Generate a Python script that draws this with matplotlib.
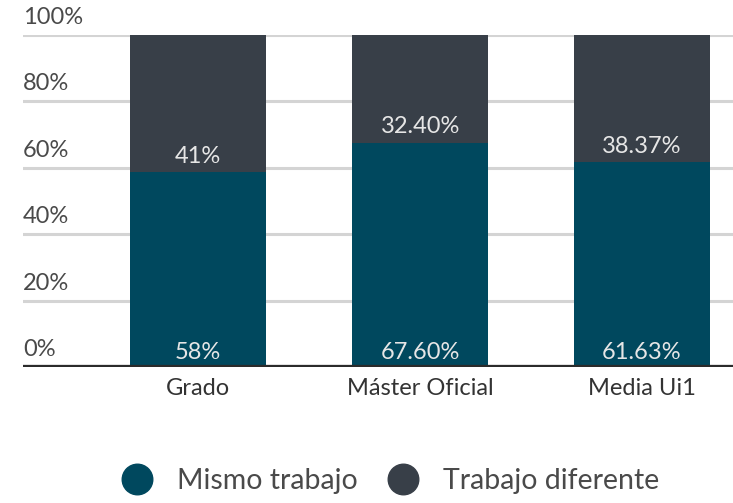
import matplotlib.pyplot as plt
from matplotlib.lines import Line2D
from matplotlib import transforms

plt.rcParams['font.family'] = ['Lato', 'DejaVu Sans']

categories = ['Grado', 'Máster Oficial', 'Media Ui1']
mismo = [58, 67.60, 61.63]
diferente = [41, 32.40, 38.37]
mismo_labels = ['58%', '67.60%', '61.63%']
diferente_labels = ['41%', '32.40%', '38.37%']
yticks = [0, 20, 40, 60, 80, 100]

c_mismo = '#00485e'
c_dif = '#383f48'

# normalise each bar to 100%
tot = [a + b for a, b in zip(mismo, diferente)]
mismo_n = [a / t * 100 for a, t in zip(mismo, tot)]
dif_n = [b / t * 100 for b, t in zip(diferente, tot)]

fig = plt.figure(figsize=(7.33, 5.03), dpi=100)
ax = fig.add_axes([23 / 733, 136 / 503, 710 / 733, 332 / 503])

x = list(range(len(categories)))
ax.bar(x, mismo_n, width=0.613, color=c_mismo, zorder=3)
ax.bar(x, dif_n, bottom=mismo_n, width=0.613, color=c_dif, zorder=3)

ax.set_xlim(-0.79, 2.41)
ax.set_ylim(0, 100)

for y in yticks[1:]:
    ax.axhline(y, color='#d4d4d4', lw=2.2, zorder=1)
ax.axhline(0, color='#2b2b2b', lw=3.8, zorder=4)

trans = transforms.blended_transform_factory(ax.transAxes, ax.transData)
for y in yticks:
    ax.annotate(f'{y}%', (0, y), xycoords=trans, xytext=(0, 5),
                textcoords='offset points', ha='left', va='bottom',
                fontsize=17, color='#4a4a4a')

for i in x:
    ax.annotate(mismo_labels[i], (i, 0), xytext=(0, 3), textcoords='offset points',
                ha='center', va='bottom', fontsize=17, color='#e6e6e6', zorder=5)
    ax.annotate(diferente_labels[i], (i, mismo_n[i]), xytext=(0, 4),
                textcoords='offset points', ha='center', va='bottom',
                fontsize=17, color='#e6e6e6', zorder=5)

ax.set_xticks(x)
ax.set_xticklabels(categories, fontsize=17, color='#333333')
ax.tick_params(axis='x', length=0, pad=8)
ax.set_yticks([])
for s in ax.spines.values():
    s.set_visible(False)

handles = [Line2D([], [], marker='o', ls='', markersize=22, color=c_mismo),
           Line2D([], [], marker='o', ls='', markersize=22, color=c_dif)]
fig.legend(handles, ['Mismo trabajo', 'Trabajo diferente'], loc='center',
           bbox_to_anchor=(384 / 733, 22 / 503), ncol=2, frameon=False,
           fontsize=20.5, labelcolor='#4a4a4a', handletextpad=0.4,
           columnspacing=0.6)

fig.savefig('out.png', dpi=100)
